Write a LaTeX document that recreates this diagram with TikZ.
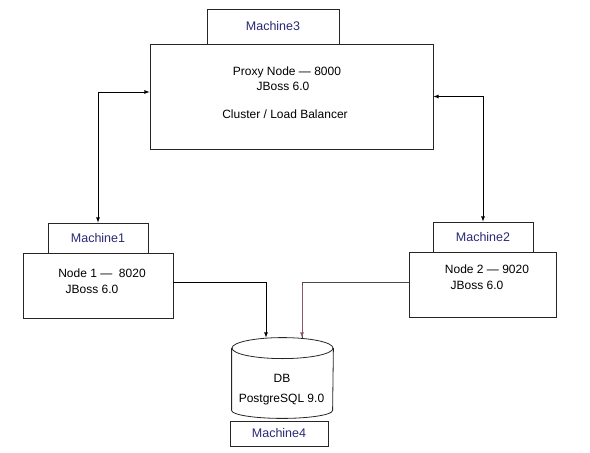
\documentclass[tikz,border=0pt]{standalone}
\usepackage{fontspec}
\setmainfont{Liberation Sans}
\usetikzlibrary{arrows,positioning}
\definecolor{machineblue}{RGB}{40,40,120}
\definecolor{linkred}{RGB}{140,90,100}
\tikzstyle{server}=[rectangle,draw=black!85,line width=0.8pt,inner sep=0pt]
\tikzstyle{machine}=[rectangle,draw=black!85,line width=0.8pt,inner sep=0pt,
text=machineblue,font=\fontsize{12.5}{14}\selectfont]
\tikzstyle{txt}=[anchor=base,inner sep=0pt,font=\fontsize{12}{14}\selectfont]

\begin{document}
\begin{tikzpicture}[x=1pt,y=-1pt,>=latex,line width=0.8pt]
            \useasboundingbox (0,0) rectangle (590,453);

            % Proxy PART

            \node[machine,minimum width=132pt,minimum height=35pt] (m3) at (273,26.5) {Machine3};
            \node[server,minimum width=283pt,minimum height=105pt] (proxy) at (291.5,96.5) {};
            \node[txt] (proxy1) at (287,75) {Proxy Node --- 8000};
            \node[txt] (proxy2) at (283,90) {JBoss 6.0};
            \node[txt] (proxy3) at (285,118) {Cluster / Load Balancer};

            % Node 1 PART

            \node[machine,minimum width=100pt,minimum height=30pt] (m1) at (98,238) {Machine1};
            \node[server,minimum width=150pt,minimum height=65pt] (n1) at (98,285.5) {};
            \node[txt] (n1a) at (102,277) {Node 1 --- \ 8020};
            \node[txt] (n1b) at (92,293) {JBoss 6.0};

            % Node 2 PART

            \node[machine,minimum width=100pt,minimum height=30pt] (m2) at (483,237) {Machine2};
            \node[server,minimum width=147pt,minimum height=65pt] (n2) at (482.5,284.5) {};
            \node[txt] (n2a) at (487,273) {Node 2 --- 9020};
            \node[txt] (n2b) at (477,289) {JBoss 6.0};

            % DB PART

            \node[rectangle,minimum width=101pt,minimum height=80pt,inner sep=0pt] (db) at (282.5,378) {};
            \draw[black!85] ([yshift=-10.5pt]db.north) ellipse [x radius=50.5pt,y radius=10.5pt];
            \draw[black!85] ([yshift=-10.5pt]db.north west) -- ([yshift=8pt]db.south west)
                arc[start angle=180,end angle=360,x radius=50.5pt,y radius=8pt]
                -- ([yshift=-10.5pt]db.north east);
            \node[txt] (dba) at (282,382) {DB};
            \node[txt] (dbb) at (281.5,402) {PostgreSQL 9.0};
            \node[machine,minimum width=98pt,minimum height=25pt] (m4) at (279,433.5) {Machine4};

            % Connections

            \draw[latex-latex] ([yshift=4.5pt]proxy.west) -| (m1.north);
            \draw[latex-latex] (proxy.east) -| (m2.north);
            \draw[-latex] ([yshift=3.5pt]n1.east) -| ([xshift=-16.5pt]db.north);
            \draw[black!70] ([yshift=2.5pt]n2.west) -| coordinate (c2) ([xshift=19.5pt]db.north);
            \draw[-latex,linkred] ([yshift=-3pt]c2) -- ([xshift=19.5pt]db.north);

        \end{tikzpicture}
\end{document}
